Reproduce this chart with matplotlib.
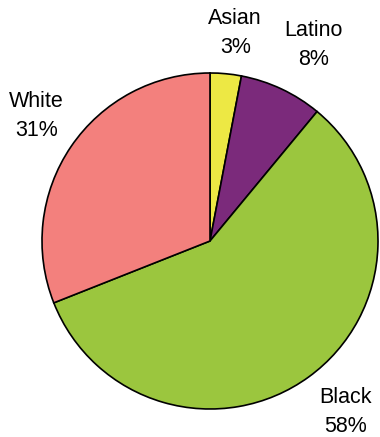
import numpy as np
import matplotlib.pyplot as plt

plt.rcParams['font.family'] = ['Liberation Sans', 'DejaVu Sans']

# data (clockwise from 12 o'clock)
groups = ["Asian", "Latino", "Black", "White"]
shares = [3, 8, 58, 31]
colors = ["#EDE844", "#7B2A7B", "#9BC63E", "#F3807D"]

# label radius / angle nudge per slice (layout only)
label_r = [1.25, 1.32, 1.30, 1.27]
label_nudge = [-1.5, -2.5, 2.5, -1.5]

fig = plt.figure(figsize=(3.8, 4.37), dpi=100)
ax = fig.add_axes([0, 0, 1, 1])

wedges, _ = ax.pie(shares, colors=colors, startangle=90, counterclock=False,
                   radius=1.0, wedgeprops=dict(edgecolor="black", linewidth=1.2))

# labels centred outside each slice
for w, g, s, r, dn in zip(wedges, groups, shares, label_r, label_nudge):
    mid = np.deg2rad((w.theta1 + w.theta2) / 2 + dn)
    x, y = r * np.cos(mid), r * np.sin(mid)
    gap = 14.5 / 168
    ax.text(x, y + gap, g, ha="center", va="center", fontsize=15.5)
    ax.text(x, y - gap, f"{s}%", ha="center", va="center", fontsize=15.5)

# place pie centre at (210, 241) px with radius 168 px
ax.set_aspect("auto")
ax.set_xlim(-210 / 168, 170 / 168)
ax.set_ylim(-196 / 168, 241 / 168)
ax.axis("off")

fig.savefig("out.png", dpi=100)
